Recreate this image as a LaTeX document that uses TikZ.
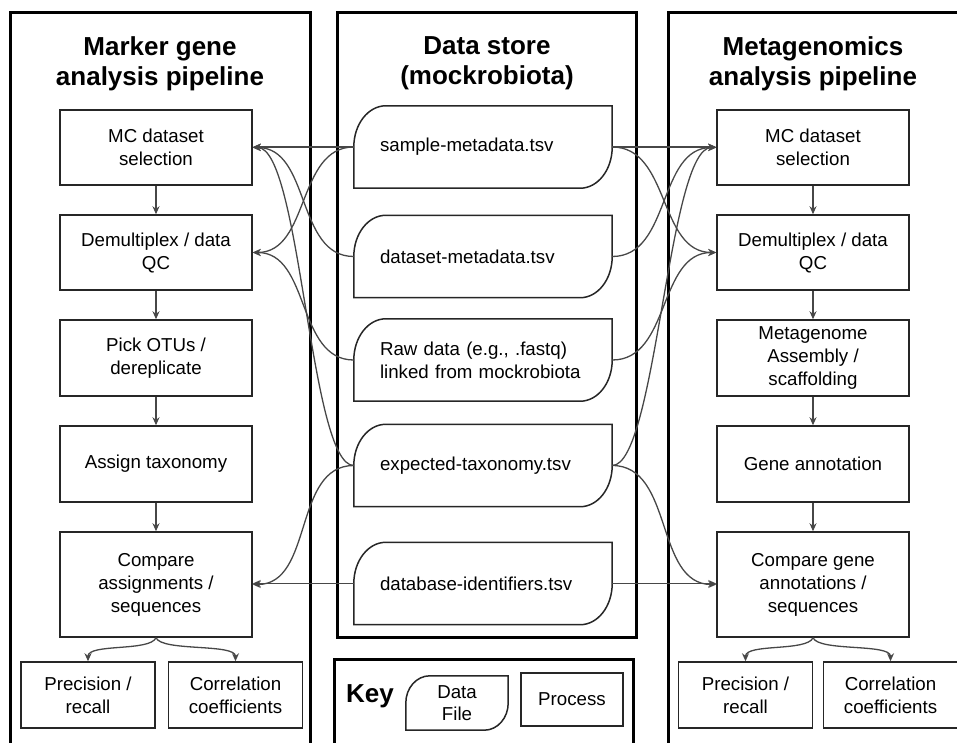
\documentclass[tikz,border=0pt]{standalone}
\usepackage{fontspec}
\setmainfont{Liberation Sans}
\usetikzlibrary{arrows.meta,calc}
\newcommand\dfshape[2]{%
  \draw[fileline] (#1.south west) -- (#1.west)
    .. controls ($(#1.west)!0.5523!(#1.north west)$) and ($(#1.north west)+(#2*0.4477,0)$) .. ($(#1.north west)+(#2,0)$)
    -- (#1.north east) -- (#1.east)
    .. controls ($(#1.east)!0.5523!(#1.south east)$) and ($(#1.south east)+(-#2*0.4477,0)$) .. ($(#1.south east)+(-#2,0)$)
    -- cycle;}
\begin{document}
\begin{tikzpicture}[x=1pt,y=-1pt,
  panel/.style={draw=black, line width=3pt},
  proc/.style={draw=black!85, line width=1.5pt, minimum width=192pt, inner sep=0pt, align=center, font=\fontsize{18.7}{23}\selectfont},
  small/.style={minimum width=134pt, minimum height=66pt},
  datafile/.style={minimum width=258pt, minimum height=82pt, inner xsep=26pt, inner ysep=0pt, text width=206pt, align=left, font=\fontsize{18.7}{23}\selectfont},
  keyfile/.style={minimum width=102pt, minimum height=54pt, inner sep=0pt, align=center, font=\fontsize{18.7}{22}\selectfont},
  fileline/.style={draw=black!85, line width=1.5pt},
  conn/.style={draw=black!72, line width=1.3pt, -{Stealth[length=8pt,width=7pt]}},
  title/.style={font=\bfseries\fontsize{26}{30}\selectfont, align=center}]
\useasboundingbox (0,0) rectangle (957,743);
\clip (0,0) rectangle (957,743);

% panels
\draw[panel] (10,13) rectangle (310,760);
\draw[panel] (337,13) rectangle (636,637);
\draw[panel] (334,659) rectangle (633,760);
\draw[panel] (668,13) rectangle (975,760);

% titles
\node[title] (tL) at (160,63.5) {Marker gene\\analysis pipeline};
\node[title] (tM) at (487,63.5) {Data store\\(mockrobiota)};
\node[title] (tR) at (813,63.5) {Metagenomics\\analysis pipeline};

% left pipeline
\node[proc, minimum height=75pt] (mcL) at (156,147.5) {MC dataset\\selection};
\node[proc, minimum height=75pt] (dmL) at (156,252.5) {Demultiplex / data\\QC};
\node[proc, minimum height=76pt] (poL) at (156,358) {Pick OTUs /\\dereplicate};
\node[proc, minimum height=76pt] (atL) at (156,464) {Assign taxonomy};
\node[proc, minimum height=105pt] (cmL) at (156,584.5) {Compare\\assignments /\\sequences};
\node[proc, small] (prL) at (88,695) {Precision /\\recall};
\node[proc, small] (ccL) at (235.5,695) {Correlation\\coefficients};

% right pipeline
\node[proc, minimum height=75pt] (mcR) at (813,147.5) {MC dataset\\selection};
\node[proc, minimum height=75pt] (dmR) at (813,252.5) {Demultiplex / data\\QC};
\node[proc, minimum height=76pt] (maR) at (813,358) {Metagenome\\Assembly /\\scaffolding};
\node[proc, minimum height=76pt] (gaR) at (813,464) {Gene annotation};
\node[proc, minimum height=105pt] (cmR) at (813,584.5) {Compare gene\\annotations /\\sequences};
\node[proc, small] (prR) at (745.5,695) {Precision /\\recall};
\node[proc, small] (ccR) at (890.5,695) {Correlation\\coefficients};

% data files
\node[datafile] (sm) at (483,147) {sample-metadata.tsv};
\node[datafile] (dm) at (483,256.5) {dataset-metadata.tsv};
\node[datafile] (rd) at (483,360) {Raw data (e.g., .fastq)\\linked from mockrobiota};
\node[datafile] (et) at (483,465.5) {expected-taxonomy.tsv};
\node[datafile] (di) at (483,583.5) {database-identifiers.tsv};
\foreach \n in {sm,dm,rd,et,di} {\dfshape{\n}{32}}

% key
\node[font=\bfseries\fontsize{26}{30}\selectfont] (key) at (370,696) {Key};
\node[keyfile] (kd) at (457,703) {Data\\File};
\dfshape{kd}{24}
\node[proc, minimum width=102pt, minimum height=53pt] (kp) at (572,699.5) {Process};

% pipeline arrows
\foreach \a/\b in {mcL/dmL,dmL/poL,poL/atL,atL/cmL,mcR/dmR,dmR/maR,maR/gaR,gaR/cmR}
  \draw[conn] (\a.south) -- (\b.north);
\draw[conn] (cmL.south) .. controls ($(cmL.south)+(-6,14)$) and ($(prL.north)+(0,-18)$) .. (prL.north);
\draw[conn] (cmL.south) .. controls ($(cmL.south)+(6,14)$) and ($(ccL.north)+(0,-18)$) .. (ccL.north);
\draw[conn] (cmR.south) .. controls ($(cmR.south)+(-6,14)$) and ($(prR.north)+(0,-18)$) .. (prR.north);
\draw[conn] (cmR.south) .. controls ($(cmR.south)+(6,14)$) and ($(ccR.north)+(0,-18)$) .. (ccR.north);

% data -> left pipeline
\draw[conn] (sm.west) -- (sm.west -| mcL.east);
\draw[conn] (sm.west) to[out=180,in=0] (dmL.east);
\draw[conn] (dm.west) to[out=180,in=0] (mcL.east);
\draw[conn] (rd.west) to[out=180,in=0] (dmL.east);
\draw[conn] (et.west) .. controls ($(et.west)+(-44,0)$) and ($(mcL.east)+(48,0)$) .. (mcL.east);
\draw[conn] (et.west) to[out=180,in=0] (cmL.east);
\draw[conn] (di.west) -- (di.west -| cmL.east);

% data -> right pipeline
\draw[conn] (sm.east) -- (sm.east -| mcR.west);
\draw[conn] (sm.east) to[out=0,in=180] (dmR.west);
\draw[conn] (dm.east) to[out=0,in=180] (mcR.west);
\draw[conn] (rd.east) to[out=0,in=180] (dmR.west);
\draw[conn] (et.east) .. controls ($(et.east)+(44,0)$) and ($(mcR.west)+(-48,0)$) .. (mcR.west);
\draw[conn] (et.east) to[out=0,in=180] (cmR.west);
\draw[conn] (di.east) -- (di.east -| cmR.west);
\end{tikzpicture}
\end{document}
